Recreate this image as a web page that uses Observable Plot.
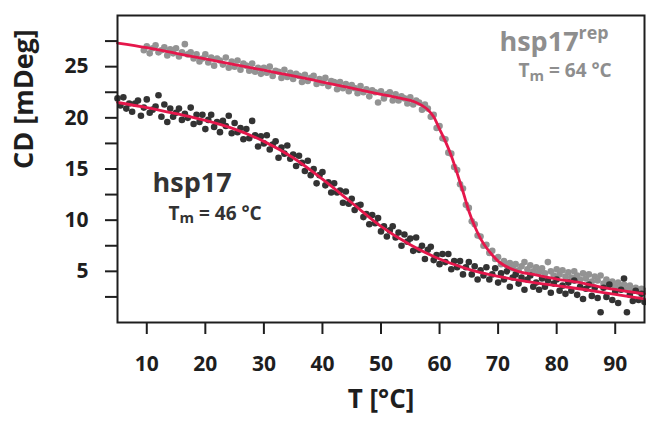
<!DOCTYPE html>
<html><head><meta charset="utf-8">
<script src="https://cdn.jsdelivr.net/npm/d3@7"></script>
<script src="https://cdn.jsdelivr.net/npm/@observablehq/plot@0.6"></script>
<style>
body{margin:0;background:#fff;}
#chart svg text{font-family:"Open Sans",sans-serif;font-weight:bold;}
</style></head><body><div id="chart"></div>
<script>
// Temperature grid of the CD melt (°C)
const temps = [5,5.5,6,6.5,7,7.5,8,8.5,9,9.5,
10,10.5,11,11.5,12,12.5,13,13.5,14,14.5,
15,15.5,16,16.5,17,17.5,18,18.5,19,19.5,
20,20.5,21,21.5,22,22.5,23,23.5,24,24.5,
25,25.5,26,26.5,27,27.5,28,28.5,29,29.5,
30,30.5,31,31.5,32,32.5,33,33.5,34,34.5,
35,35.5,36,36.5,37,37.5,38,38.5,39,39.5,
40,40.5,41,41.5,42,42.5,43,43.5,44,44.5,
45,45.5,46,46.5,47,47.5,48,48.5,49,49.5,
50,50.5,51,51.5,52,52.5,53,53.5,54,54.5,
55,55.5,56,56.5,57,57.5,58,58.5,59,59.5,
60,60.5,61,61.5,62,62.5,63,63.5,64,64.5,
65,65.5,66,66.5,67,67.5,68,68.5,69,69.5,
70,70.5,71,71.5,72,72.5,73,73.5,74,74.5,
75,75.5,76,76.5,77,77.5,78,78.5,79,79.5,
80,80.5,81,81.5,82,82.5,83,83.5,84,84.5,
85,85.5,86,86.5,87,87.5,88,88.5,89,89.5,
90,90.5,91,91.5,92,92.5,93,93.5,94,94.5,95];

// hsp17 CD signal (mDeg), from 5 °C
const hsp17 = [21.9,21.2,22.0,20.9,21.4,20.6,21.4,21.7,20.2,21.0,
21.8,20.5,20.8,21.1,22.2,20.1,21.3,19.6,20.9,20.1,
20.5,20.9,19.8,20.4,20.0,21.0,19.4,20.3,19.6,20.3,
18.9,19.8,20.3,19.1,19.6,18.6,19.7,19.2,20.2,18.5,
19.5,18.6,19.0,17.9,18.9,18.0,19.7,18.3,17.2,18.2,
17.5,18.3,16.9,17.4,17.7,16.1,17.1,16.5,17.3,16.0,
16.4,15.3,16.3,15.6,14.8,15.8,14.4,15.0,13.6,14.4,
14.7,13.4,13.7,12.7,13.6,12.7,12.9,11.7,12.8,11.6,
12.1,11.0,11.4,11.5,10.3,10.6,9.6,10.5,9.7,10.2,
8.9,9.4,8.4,9.0,9.4,8.3,8.8,7.5,8.6,7.9,
8.2,7.0,8.3,7.1,7.5,6.2,7.1,7.4,6.1,6.6,
5.7,6.7,5.9,6.7,5.2,6.0,5.4,6.0,4.7,5.4,
5.9,4.7,5.5,4.2,5.1,4.6,5.4,4.2,4.7,5.3,
3.9,4.8,4.2,5.0,3.5,4.4,4.7,3.8,4.4,3.2,
4.2,4.6,3.5,3.9,3.2,4.3,3.5,4.1,2.9,3.8,
4.2,3.1,3.6,2.8,3.9,3.1,4.1,2.7,3.5,2.3,
3.3,3.7,2.6,3.4,2.4,1.0,3.4,2.5,3.7,2.2,
3.0,1.9,3.2,4.3,1.0,2.7,2.1,3.1,2.2,2.8,2.0];

// hsp17rep CD signal (mDeg), from 9.5 °C
const hsp17rep = [26.6,
27.0,26.3,26.8,27.1,26.4,26.6,26.9,26.1,26.7,26.3,
26.8,26.0,26.4,27.2,26.2,26.4,25.8,26.2,25.5,25.8,
26.2,25.4,25.9,25.1,25.8,25.6,25.2,25.9,24.9,25.5,
25.0,25.6,24.7,25.3,25.1,24.6,25.3,24.5,24.9,24.3,
24.9,24.4,25.0,24.1,24.6,24.5,23.9,24.7,24.0,24.4,
23.8,24.3,24.1,23.5,24.2,23.6,23.9,24.1,23.3,23.8,
23.4,23.9,23.1,23.6,23.5,22.8,23.5,22.9,23.3,22.6,
23.2,22.9,22.4,23.1,22.5,22.8,22.1,22.7,22.5,21.5,
22.6,21.9,22.3,22.5,21.7,22.3,21.7,22.1,21.9,21.4,
22.0,21.3,21.7,21.5,20.8,21.3,20.9,20.1,20.3,19.0,
19.2,18.0,17.9,16.6,16.5,15.2,14.9,13.5,13.1,11.5,
11.2,9.9,9.6,8.5,8.4,7.5,7.6,6.8,7.0,6.2,
6.4,5.7,6.0,5.6,5.8,5.3,5.7,5.1,5.5,5.9,
5.2,5.6,5.0,5.4,4.9,5.3,4.8,5.9,5.0,4.6,
5.2,4.7,5.1,4.5,4.9,4.4,5.0,4.6,4.2,4.8,
4.3,4.7,4.0,4.5,4.1,4.6,3.8,4.2,3.7,4.0,
3.5,3.9,3.4,3.7,3.2,3.6,3.1,3.4,3.0,3.3,3.1];
const repStartIndex = 9;

// Fitted melting curves
const fitT = [5,10,15,20,25,30,35,40,45,50,55,60,65,70,75,80,85,90,95];
const fitHsp17 = [21.5,21.0,20.4,19.75,18.9,17.7,16.1,14.0,11.7,9.4,7.6,6.2,5.2,4.5,4.0,3.6,3.2,2.75,2.3];
const fitRepT = [5,10,15,20,25,30,35,40,45,50,53,55,56,57,58,59,60,61,62,63,64,65,66,67,68,69,70,71,72,74,76,78,80,84,88,92,95];
const fitRep = [27.3,26.85,26.3,25.75,25.2,24.65,24.1,23.5,22.9,22.3,21.95,21.7,21.5,21.2,20.8,20.1,18.9,17.7,16.3,14.6,12.8,10.9,9.4,8.2,7.3,6.6,6.0,5.6,5.3,4.9,4.7,4.45,4.25,3.9,3.4,3.05,2.8];

const xTicks = [10,20,30,40,50,60,70,80,90];
const yTicks = [5,10,15,20,25];
const yMinorTicks = [2.5,7.5,12.5,17.5,22.5,27.5];
const xTitle = "T [°C]";
const yTitle = "CD [mDeg]";
const labels = [
  {text: "hsp17", T: 10.98, CD: 13.55},
  {text: "Tm = 46 °C", T: 13.71, CD: 10.6},
  {text: "hsp17rep", T: 70.23, CD: 27.42},
  {text: "Tm = 64 °C", T: 73.48, CD: 24.54}
];

const dark = hsp17.map((v, i) => ({T: temps[i], CD: v}));
const gray = hsp17rep.map((v, i) => ({T: temps[i + repStartIndex], CD: v}));
const fitDark = fitHsp17.map((v, i) => ({T: fitT[i], CD: v}));
const fitGray = fitRep.map((v, i) => ({T: fitRepT[i], CD: v}));

const RED = "#e5174b";
const plot = Plot.plot({
  width: 646, height: 423,
  marginLeft: 117, marginRight: 2, marginTop: 15, marginBottom: 101,
  style: {fontFamily: "'Open Sans', sans-serif", color: "#1e1e1e", background: "#fff", overflow: "visible"},
  x: {domain: [5, 95]},
  y: {domain: [0, 30]},
  marks: [
    Plot.axisX(xTicks, {tickSize: 12, tickPadding: 22, fontSize: 21, strokeWidth: 2, label: null}),
    Plot.axisY(yMinorTicks, {tickSize: 12, strokeWidth: 2, tickFormat: () => "", label: null}),
    Plot.axisY(yTicks, {tickSize: 12, tickPadding: 17, fontSize: 21, strokeWidth: 2, label: null}),
    Plot.dot(gray, {x: "T", y: "CD", r: 3.3, fill: "#939393", stroke: "none"}),
    Plot.dot(dark, {x: "T", y: "CD", r: 3.3, fill: "#333333", stroke: "none"}),
    Plot.line(fitGray, {x: "T", y: "CD", stroke: RED, strokeWidth: 2.8, curve: "monotone-x"}),
    Plot.line(fitDark, {x: "T", y: "CD", stroke: RED, strokeWidth: 2.8, curve: "monotone-x"}),
    Plot.frame({stroke: "#1e1e1e", strokeWidth: 2}),
    Plot.text([labels[0]], {x: "T", y: "CD", text: "text", textAnchor: "start", fontSize: 27, fill: "#333"}),
    Plot.text([labels[1]], {x: "T", y: "CD", text: "text", textAnchor: "start", fontSize: 19, fill: "#333"}),
    Plot.text([labels[2]], {x: "T", y: "CD", text: "text", textAnchor: "start", fontSize: 27, fill: "#8e8e8e"}),
    Plot.text([labels[3]], {x: "T", y: "CD", text: "text", textAnchor: "start", fontSize: 19, fill: "#8e8e8e"}),
    Plot.text([yTitle], {frameAnchor: "left", dx: -93, rotate: -90, fontSize: 27, fill: "#1e1e1e"}),
    Plot.text([xTitle], {frameAnchor: "bottom", dy: 85, fontSize: 26, fill: "#1e1e1e"})
  ]
});

// subscript / superscript formatting
const NS = "http://www.w3.org/2000/svg";
plot.querySelectorAll("text").forEach(t => {
  const s = t.textContent;
  if (s.startsWith("Tm = ")) {
    t.textContent = "";
    const a = document.createElementNS(NS, "tspan"); a.textContent = "T";
    const b = document.createElementNS(NS, "tspan"); b.textContent = "m";
    b.setAttribute("font-size", "0.78em"); b.setAttribute("dy", "0.22em");
    const c = document.createElementNS(NS, "tspan"); c.textContent = s.slice(2);
    c.setAttribute("dy", "-0.17em");
    t.append(a, b, c);
  } else if (s === "hsp17rep") {
    t.textContent = "";
    const a = document.createElementNS(NS, "tspan"); a.textContent = "hsp17";
    const b = document.createElementNS(NS, "tspan"); b.textContent = "rep";
    b.setAttribute("font-size", "0.66em"); b.setAttribute("dy", "-0.62em");
    t.append(a, b);
  }
});
document.getElementById("chart").append(plot);
</script></body></html>
